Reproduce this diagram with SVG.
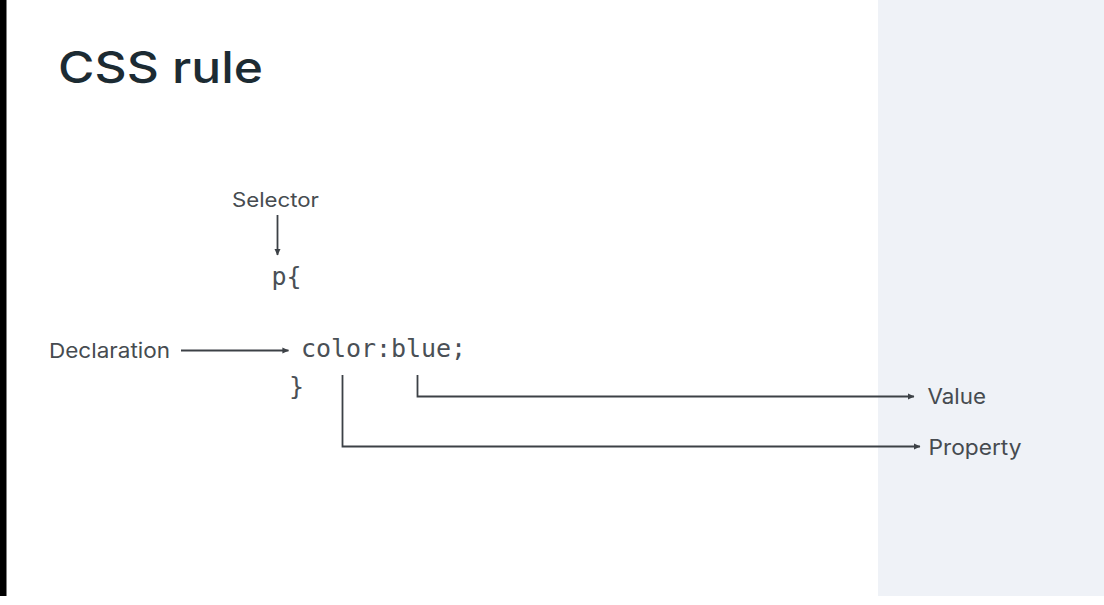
<svg xmlns="http://www.w3.org/2000/svg" width="1104" height="605" viewBox="0 0 1104 605">
  <style>
    .title { font-family: "Inter", "Liberation Sans", sans-serif; font-size: 44px; font-weight: 500; fill: #1c2b33; }
    .label { font-family: "Inter", "Open Sans", "Liberation Sans", sans-serif; font-size: 20.5px; fill: #464b50; }
    .code { font-family: "DejaVu Sans Mono", "Liberation Mono", monospace; font-size: 25px; fill: #4a5056; }
    .conn { fill: none; stroke: #3c4146; stroke-width: 1.8; }
  </style>
  <defs>
    <marker id="arrow" viewBox="0 0 8 8" refX="7" refY="4" markerWidth="7" markerHeight="7" markerUnits="userSpaceOnUse" orient="auto">
      <path d="M0,0.5 L7.5,4 L0,7.5 z" fill="#3c4146"/>
    </marker>
  </defs>

  <rect x="0" y="0" width="1104" height="605" fill="#ffffff"/>
  <rect x="0" y="0" width="6.5" height="596" fill="#000000"/>
  <rect x="878" y="0" width="226" height="596" fill="#eff2f7"/>

  <g id="title">
    <text class="title" x="58" y="83" textLength="205" lengthAdjust="spacingAndGlyphs">CSS rule</text>
  </g>

  <g id="selector-label">
    <text class="label" x="232" y="207" textLength="87" lengthAdjust="spacingAndGlyphs" style="font-size:19.5px">Selector</text>
  </g>
  <g id="declaration-label">
    <text class="label" x="49" y="357.5" textLength="121" lengthAdjust="spacingAndGlyphs">Declaration</text>
  </g>
  <g id="value-label">
    <text class="label" x="927.5" y="403.5" textLength="58.5" lengthAdjust="spacingAndGlyphs" style="font-size:21px">Value</text>
  </g>
  <g id="property-label">
    <text class="label" x="928.5" y="455" textLength="93" lengthAdjust="spacingAndGlyphs" style="font-size:21px">Property</text>
  </g>

  <g id="code">
    <text class="code" x="271.5" y="285">p{</text>
    <text class="code" x="301" y="356.5" textLength="165" lengthAdjust="spacing">color:blue;</text>
    <text class="code" x="289" y="395">}</text>
  </g>

  <g id="connectors">
    <line class="conn" x1="277.5" y1="215" x2="277.5" y2="255" marker-end="url(#arrow)"/>
    <line class="conn" x1="181" y1="350.5" x2="288.5" y2="350.5" marker-end="url(#arrow)"/>
    <path class="conn" d="M417.5,375 V396.5 H914" marker-end="url(#arrow)"/>
    <path class="conn" d="M342.5,375 V446.5 H920" marker-end="url(#arrow)"/>
  </g>
</svg>
